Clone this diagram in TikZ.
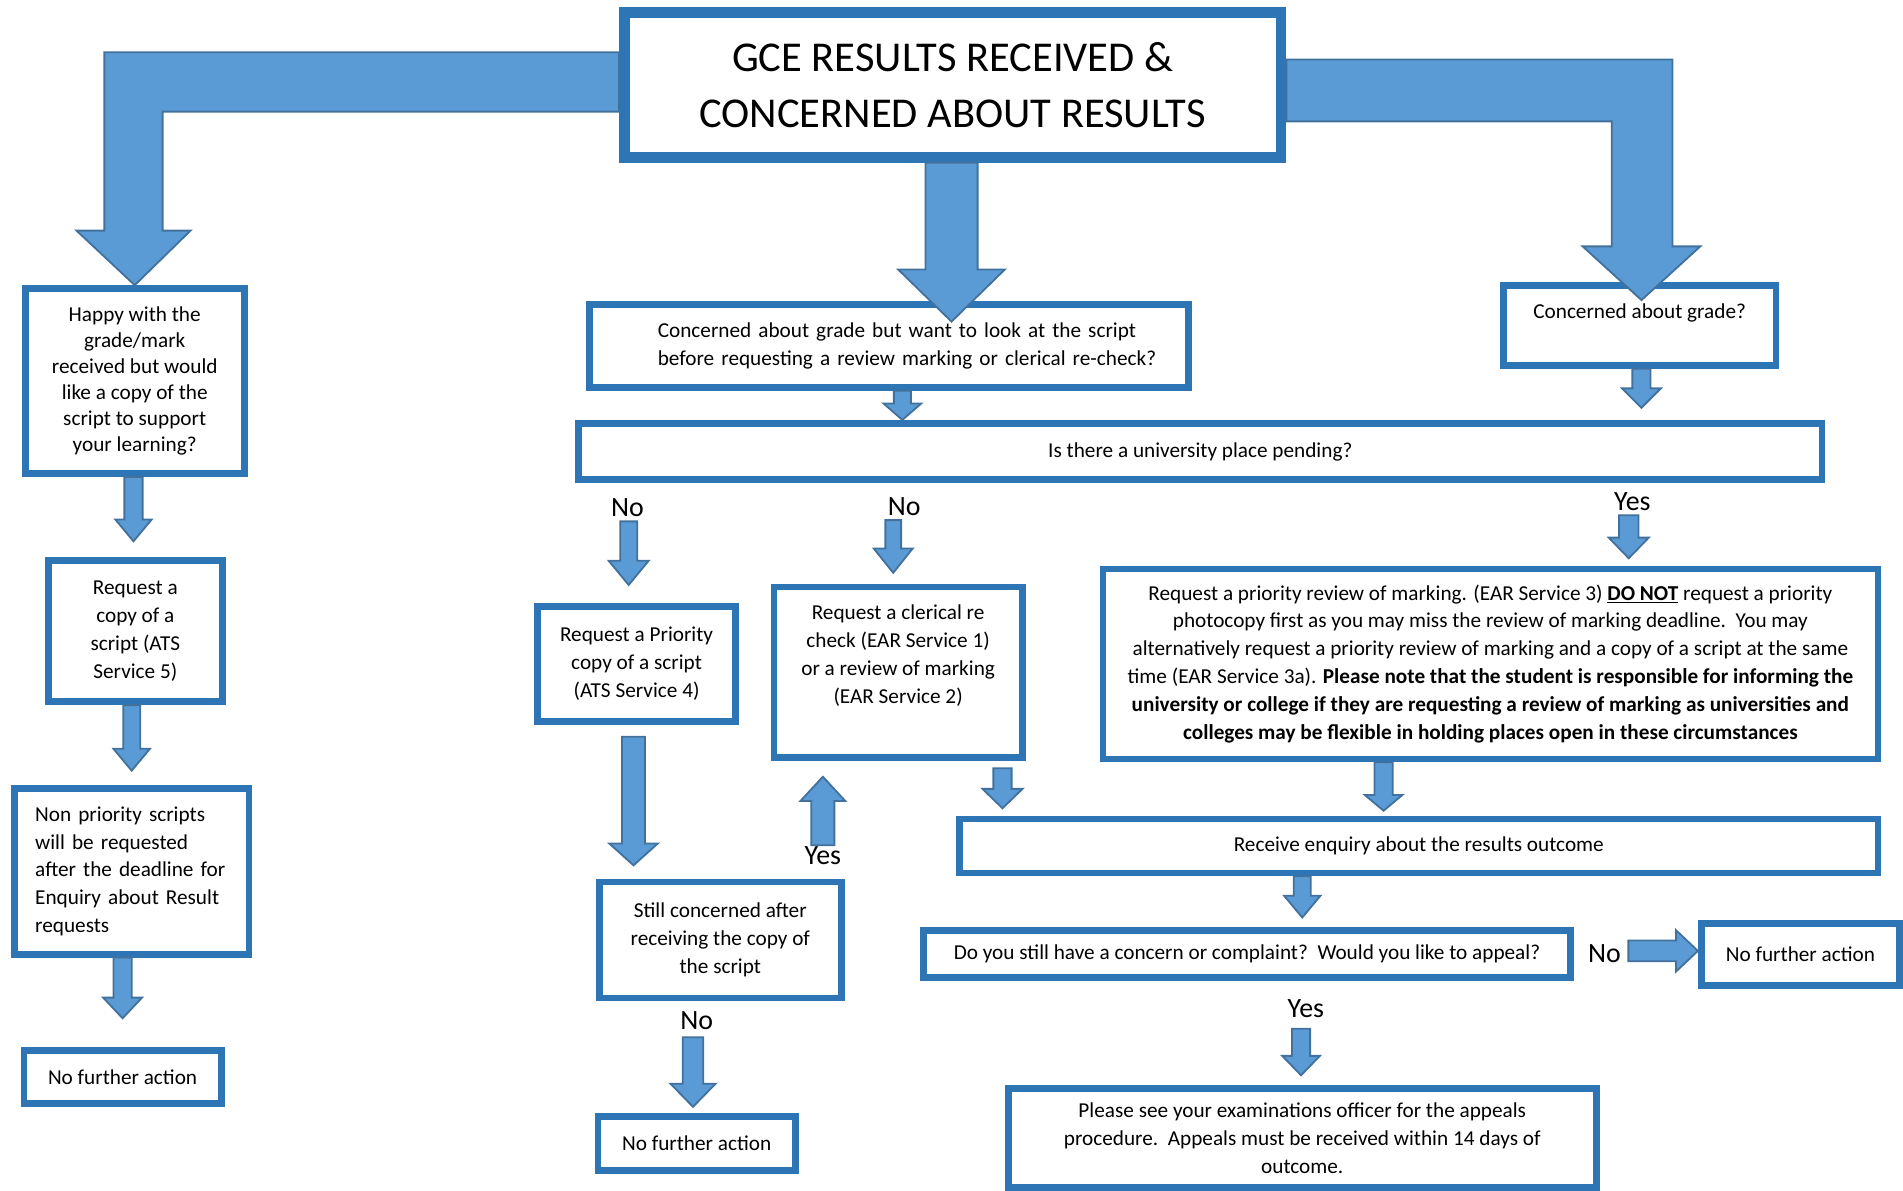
\documentclass[tikz,border=0pt]{standalone}
\usepackage{fontspec}
\setmainfont{Carlito}
\usetikzlibrary{calc}
\definecolor{boxblue}{RGB}{46,117,182}
\definecolor{arrowfill}{RGB}{91,155,213}
\definecolor{arrowline}{RGB}{65,113,156}

\tikzset{
  box/.style={draw=boxblue, line width=5.5pt, fill=white, align=center, inner sep=0pt,
    font=\fontsize{17.5}{23}\selectfont},
  titlebox/.style={box, line width=9pt, font=\fontsize{35}{46}\selectfont},
  sz/.style 2 args={minimum width=#1, minimum height=#2},
  lbl/.style={inner sep=1pt, text depth=0pt, font=\fontsize{23}{27}\selectfont},
  blockarrow/.style={fill=arrowfill, draw=arrowline, line width=1.5pt, line join=miter}
}

% block arrow: start point (only y used), tip, half stem, half head, head length
\newcommand{\blockdown}[5]{%
  \draw[blockarrow] let \p1=(#1), \p2=(#2) in
    (\x2-#3pt,\y1) -- (\x2+#3pt,\y1) -- (\x2+#3pt,\y2+#5pt) -- (\x2+#4pt,\y2+#5pt)
    -- (\x2,\y2) -- (\x2-#4pt,\y2+#5pt) -- (\x2-#3pt,\y2+#5pt) -- cycle;}
\newcommand{\blockright}[5]{%
  \draw[blockarrow] let \p1=(#1), \p2=(#2) in
    (\x1,\y2+#3pt) -- (\x2-#5pt,\y2+#3pt) -- (\x2-#5pt,\y2+#4pt) -- (\x2,\y2)
    -- (\x2-#5pt,\y2-#4pt) -- (\x2-#5pt,\y2-#3pt) -- (\x1,\y2-#3pt) -- cycle;}

\begin{document}
\begin{tikzpicture}[x=1pt, y=-1pt]
    \useasboundingbox (0,0) rectangle (1568,981);

    % Title
    \node[titlebox, sz={541}{119}] (title) at (785,70)
        {GCE RESULTS RECEIVED \&\\CONCERNED ABOUT RESULTS};

    % Left column
    \node[box, sz={180.5}{152.5}, font=\fontsize{17.5}{21.4}\selectfont] (happy) at (111,314)
        {Happy with the\\grade/mark\\received but would\\like a copy of the\\script to support\\your learning?};
    \node[box, sz={143.5}{116.5}] (req5) at (111.5,520)
        {Request a\\copy of a\\script (ATS\\Service 5)};
    \node[box, sz={193.5}{136.5}, align=left, text width=159pt] (nonp) at (108.5,718)
        {Non priority scripts\\will be requested\\after the deadline for\\Enquiry about Result\\requests};
    \node[box, sz={162.5}{43.5}] (nfa1) at (101,887.5) {No further action};

    % Middle column
    \node[box, sz={493.5}{68.5}, align=left, text width=381pt] (look) at (732.5,285)
        {\mbox{Concerned about grade but want to look at the script}\\
         \mbox{before requesting a review marking or clerical re-check?}};
    \node[box, sz={224.5}{66}] (grade) at (1351,268) {Concerned about grade?\\[-6pt]\strut};
    \node[box, sz={1024.5}{46.5}] (univ) at (989,372) {Is there a university place pending?};
    \node[box, sz={163.5}{94.5}] (prio) at (524.5,547)
        {Request a Priority\\copy of a script\\(ATS Service 4)};
    \node[box, sz={204.5}{140.5}] (cler) at (740,554)
        {Request a clerical re\\check (EAR Service 1)\\or a review of marking\\(EAR Service 2)\\\strut};
    \node[box, sz={199.5}{95.5}] (still) at (593.5,774.5)
        {Still concerned after\\receiving the copy of\\the script};
    \node[box, sz={162.5}{44.5}] (nfa2) at (574,942) {No further action};

    % Right column
    \node[box, sz={638.5}{156.5}] (ear3) at (1228,547)
        {Request a priority review of marking. (EAR Service 3) \underline{\textbf{DO NOT}} request a priority\\
         photocopy first as you may miss the review of marking deadline.\ \ You may\\
         alternatively request a priority review of marking and a copy of a script at the same\\
         time (EAR Service 3a). \textbf{Please note that the student is responsible for informing the}\\
         \textbf{university or college if they are requesting a review of marking as universities and}\\
         \textbf{colleges may be flexible in holding places open in these circumstances}};
    \node[box, sz={756.5}{44.5}] (recv) at (1169,697) {Receive enquiry about the results outcome};
    \node[box, sz={533.5}{38.5}] (appeal) at (1027.5,786)
        {Do you still have a concern or complaint?\ \ Would you like to appeal?};
    \node[box, sz={163.5}{51.5}] (nfa3) at (1483.5,786.5) {No further action};
    \node[box, sz={484.5}{81.5}] (appeals) at (1073,937.5)
        {Please see your examinations officer for the appeals\\
         procedure.\ \ Appeals must be received within 14 days of\\outcome.};

    % Yes / No labels
    \foreach \name/\txt/\x/\y in {noA/No/517/418, noB/No/745/417, yesA/Yes/1345/413,
        yesB/Yes/678/705, noC/No/574/841, noD/No/1322/786, yesC/Yes/1076/831}
        \node[lbl] (\name) at (\x,\y) {\txt};

    % Big arrows out of the title
    \coordinate (tw) at (title.west);
    \coordinate (te) at (title.east);
    \draw[blockarrow] (tw |- 0,43) -- (86,43) -- (86,190) -- (63,190) -- (happy.north)
        -- (157,190) -- (134,190) -- (134,92) -- (tw |- 0,92) -- cycle;
    \draw[blockarrow] (te |- 0,49) -- (1378,49) -- (1378,203) -- (1401,203)
        -- ($(grade.north)+(1.5,15)$) -- (1304,203) -- (1328,203) -- (1328,100)
        -- (te |- 0,100) -- cycle;
    \blockdown{title.south}{$(title.south |- look.north)+(-1,17)$}{21.5}{44}{43}

    % Small arrows
    \blockdown{happy.south}{$(req5.north)+(-1.5,-13)$}{7.5}{15}{18}
    \blockdown{req5.south}{$(nonp.north)+(0,-12)$}{7}{15}{18}
    \blockdown{nonp.south}{$(nfa1.north)+(0,-24)$}{7.5}{16}{17}
    \blockdown{look.south}{$(look.south |- univ.north)+(11,0)$}{7}{15.5}{13.5}
    \blockdown{grade.south}{$(grade.south |- univ.north)+(1.5,-10)$}{7.5}{16}{16}
    \blockdown{$(noA.south)+(0,3)$}{$(noA.south |- prio.north)+(1,-15)$}{7}{16.5}{20}
    \blockdown{$(noB.south)+(0,3)$}{$(cler.north)+(-4,-9)$}{6.5}{16}{20}
    \blockdown{$(yesA.south)+(0,3)$}{$(yesA.south |- ear3.north)+(-3,-6)$}{8}{16.5}{17}
    \blockdown{$(prio.south)+(0,10)$}{$(prio.south |- still.north)+(-2.5,-11)$}{9.5}{20}{18}
    \blockdown{$(noC.south)+(0,5)$}{$(nfa2.north)+(-3,-5)$}{8.5}{18.5}{19}
    \blockdown{yesB.north}{$(yesB.north |- cler.south)+(0,13)$}{9.5}{18.5}{-20}
    \blockdown{$(cler.south)+(86,6)$}{$(cler.south |- recv.north)+(86,-6)$}{7.5}{16.5}{16}
    \blockdown{ear3.south}{$(ear3.south |- recv.north)+(-88,-4)$}{7.5}{15.5}{13}
    \blockdown{recv.south}{$(recv.south |- appeal.north)+(-96,-8)$}{7}{15}{18}
    \blockdown{$(yesC.south)+(0,8)$}{$(appeals.north)+(-1,-8)$}{7.5}{15.5}{16}
    \blockright{$(noD.east)+(5,0)$}{$(nfa3.west)+(0,-3)$}{8.5}{17}{18}
\end{tikzpicture}
\end{document}
